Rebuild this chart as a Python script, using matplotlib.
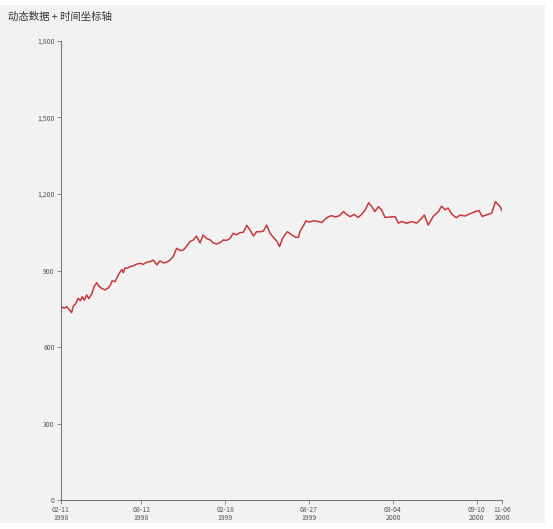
# 动态数据 + 时间坐标轴: red price-like line on a date axis

import matplotlib
matplotlib.use('Agg')
import matplotlib.pyplot as plt
import matplotlib.dates as mdates
from matplotlib.patches import Rectangle
from matplotlib.ticker import FuncFormatter
import pandas as pd

plt.rcParams['font.family'] = ['Noto Sans CJK SC', 'DejaVu Sans']

title = '动态数据 + 时间坐标轴'
start = '1998-02-11'
end = '2000-11-06'

# days since start
day = [2, 7, 13, 18, 24, 28, 33, 39, 44, 48, 53, 58, 63, 70, 75, 81, 86, 92,
       100, 106, 111, 116, 122, 128, 134, 138, 141, 145, 151, 156, 164, 171,
       179, 186, 194, 202, 209, 217, 224, 232, 239, 247, 254, 262, 270, 277,
       285, 292, 300, 307, 315, 322, 330, 338, 345, 353, 360, 368, 375, 383,
       390, 398, 405, 413, 421, 428, 436, 443, 451, 458, 466, 473, 481, 489,
       495, 501, 507, 513, 523, 532, 538, 541, 549, 555, 562, 572, 583, 591,
       598, 606, 613, 621, 630, 640, 647, 655, 664, 673, 681, 689, 697, 704,
       711, 719, 726, 734, 745, 757, 764, 772, 783, 794, 806, 817, 823, 832,
       843, 855, 862, 870, 877, 885, 895, 904, 915, 926, 938, 947, 954, 964,
       976, 984, 991, 995, 999]
value = [758, 752, 758, 748, 735, 761, 769, 791, 782, 797, 784, 804, 790, 810,
         837, 852, 839, 830, 824, 830, 840, 860, 856, 876, 895, 904, 891, 910,
         909, 915, 918, 925, 928, 924, 932, 935, 941, 922, 938, 930, 932, 941,
         954, 987, 978, 980, 996, 1013, 1020, 1035, 1008, 1039, 1025, 1020,
         1008, 1004, 1009, 1020, 1018, 1026, 1046, 1040, 1048, 1050, 1077,
         1059, 1035, 1052, 1052, 1054, 1078, 1048, 1030, 1015, 994, 1022,
         1040, 1052, 1039, 1030, 1030, 1052, 1075, 1095, 1090, 1095, 1092,
         1088, 1101, 1111, 1115, 1110, 1114, 1131, 1120, 1111, 1120, 1108,
         1120, 1137, 1166, 1150, 1131, 1150, 1138, 1108, 1110, 1111, 1086,
         1092, 1085, 1092, 1086, 1105, 1118, 1078, 1112, 1131, 1152, 1138,
         1145, 1122, 1107, 1117, 1114, 1122, 1131, 1135, 1112, 1118, 1126,
         1170, 1157, 1150, 1135]

tick_dates = ['1998-02-11', '1998-08-12', '1999-02-18', '1999-08-27',
              '2000-03-04', '2000-09-10', '2000-11-06']
y_ticks = [0, 300, 600, 900, 1200, 1500, 1800]

dates = pd.Timestamp(start) + pd.to_timedelta(day, unit='D')

fig = plt.figure(figsize=(5.53, 5.29), dpi=100, facecolor='white')
fig.patches.append(Rectangle((0, 0.011), 0.986, 0.98, transform=fig.transFigure,
                             facecolor='#f2f2f2', edgecolor='none', zorder=-10))

ax = fig.add_axes([0.1103, 0.0548, 0.7975, 0.8677])
ax.set_facecolor('none')
ax.plot(dates, value, color='#c8383a', lw=1.1)

ax.set_xlim(pd.Timestamp(start), pd.Timestamp(end))
ax.set_ylim(0, 1800)
ax.set_yticks(y_ticks)
ax.yaxis.set_major_formatter(FuncFormatter(lambda v, p: '{:,.0f}'.format(v)))
ax.set_xticks(pd.to_datetime(tick_dates))
ax.xaxis.set_major_formatter(mdates.DateFormatter('%m-%d\n%Y'))

for s in ['top', 'right']:
    ax.spines[s].set_visible(False)
for s in ['left', 'bottom']:
    ax.spines[s].set_color('#777777')
    ax.spines[s].set_linewidth(0.8)
ax.tick_params(axis='both', length=3, width=0.6, color='#777777',
               labelsize=5, labelcolor='#555555', pad=1.5)
for t in ax.get_xticklabels():
    t.set_linespacing(1.0)

fig.text(0.015, 0.968, title, fontsize=7.5, color='#333333', va='center')

fig.savefig('out.png', dpi=100, facecolor=fig.get_facecolor())
